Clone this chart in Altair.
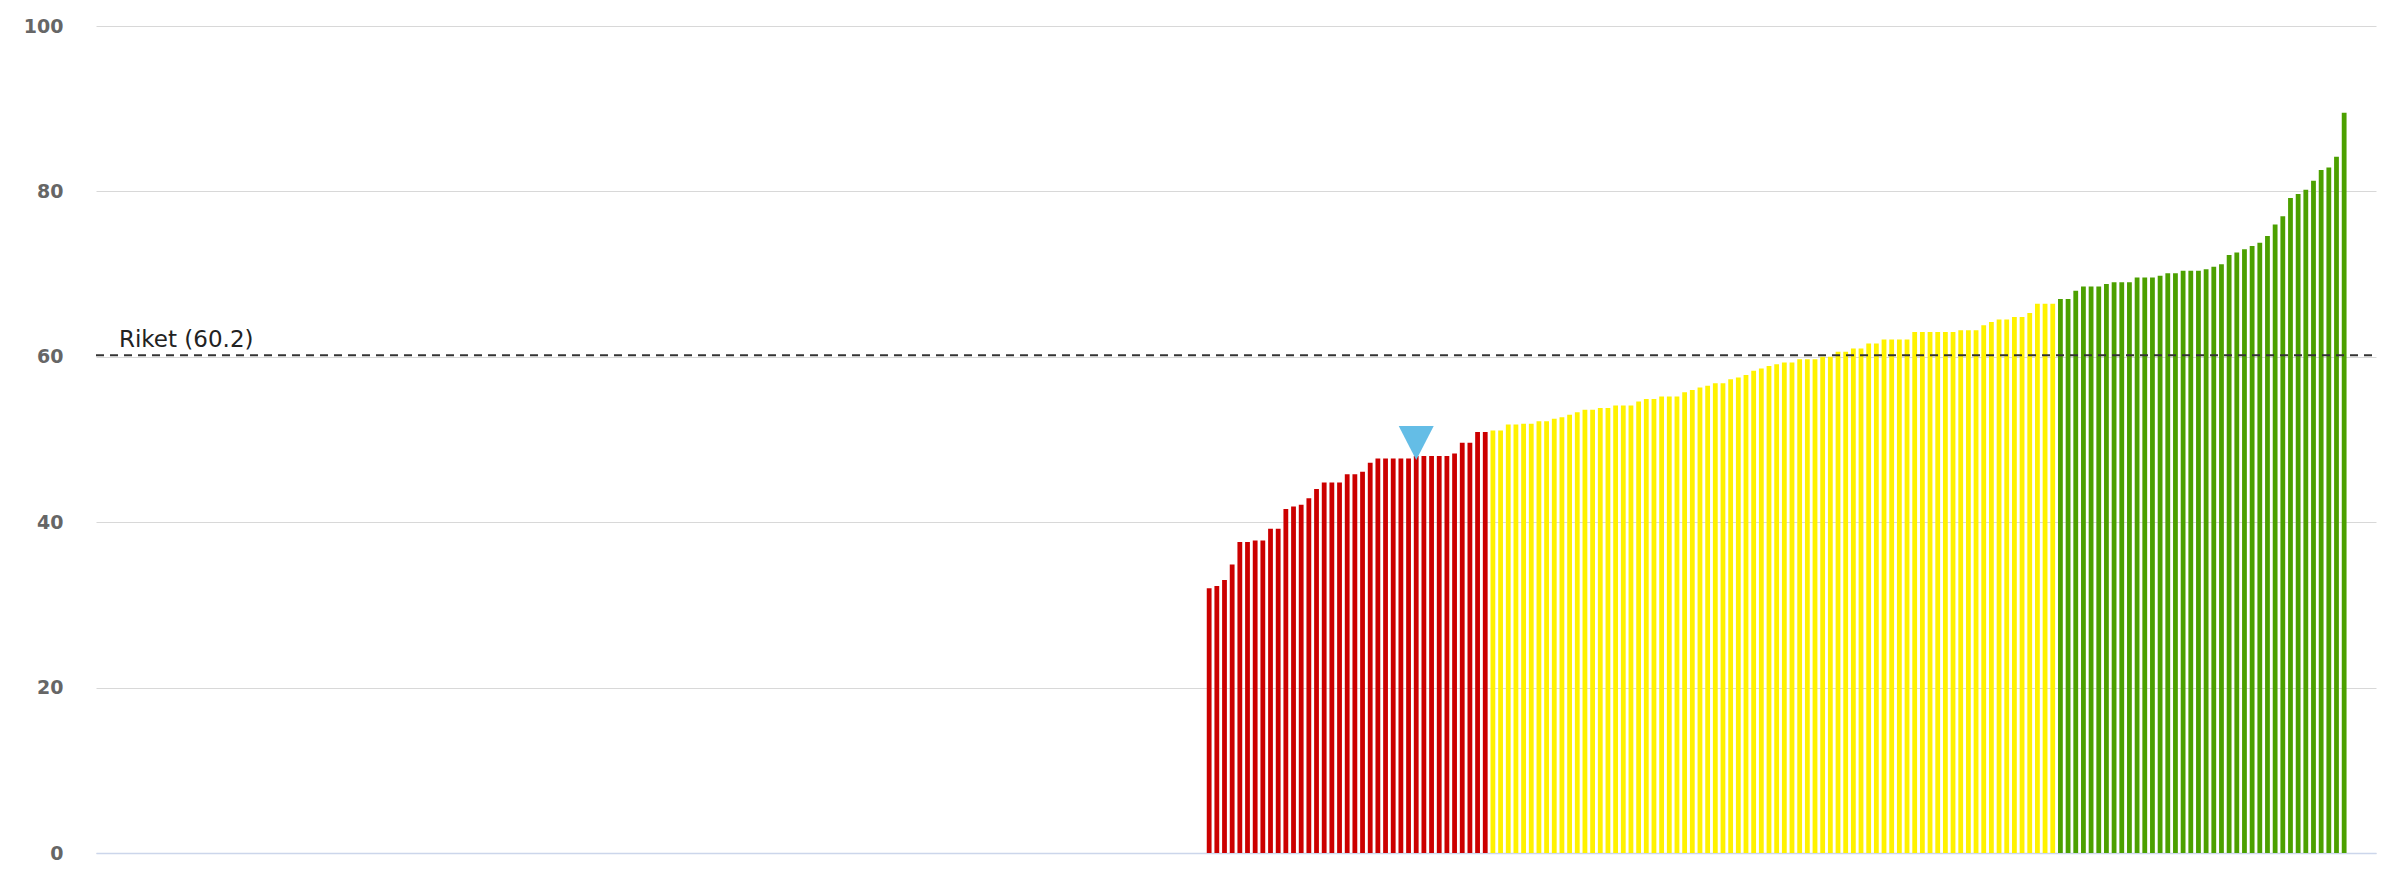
import altair as alt
import pandas as pd

# Sorted values (municipalities with data), split by colour class
red_values = [32.0, 32.3, 33.0, 34.9, 37.6, 37.6, 37.8, 37.8, 39.2, 39.2,
              41.6, 41.9, 42.1, 42.9, 44.0, 44.8, 44.8, 44.8, 45.8, 45.8,
              46.1, 47.2, 47.7, 47.7, 47.7, 47.7, 47.7, 48.0, 48.0, 48.0,
              48.0, 48.0, 48.3, 49.6, 49.6, 50.9, 50.9]
yellow_values = [51.1, 51.1, 51.8, 51.8, 51.9, 51.9, 52.2, 52.2, 52.5, 52.7,
                 53.0, 53.3, 53.6, 53.6, 53.8, 53.8, 54.1, 54.1, 54.1, 54.6,
                 54.9, 54.9, 55.2, 55.2, 55.2, 55.7, 56.0, 56.3, 56.5, 56.8,
                 56.8, 57.3, 57.5, 57.8, 58.3, 58.6, 58.9, 59.1, 59.3, 59.3,
                 59.7, 59.7, 59.7, 60.0, 60.0, 60.6, 60.6, 61.0, 61.0, 61.6,
                 61.6, 62.1, 62.1, 62.1, 62.1, 63.0, 63.0, 63.0, 63.0, 63.0,
                 63.0, 63.2, 63.2, 63.2, 63.8, 64.2, 64.5, 64.5, 64.8, 64.8,
                 65.3, 66.4, 66.4, 66.4]
green_values = [67.0, 67.0, 68.0, 68.5, 68.5, 68.5, 68.8, 69.0, 69.0, 69.0,
                69.6, 69.6, 69.6, 69.8, 70.1, 70.1, 70.4, 70.4, 70.4, 70.6,
                70.9, 71.2, 72.3, 72.6, 73.0, 73.4, 73.8, 74.6, 76.0, 77.0,
                79.2, 79.7, 80.2, 81.3, 82.6, 82.9, 84.2, 89.5]

group_names = ["low", "mid", "high"]
group_colors = ["#cc0000", "#fff200", "#4ca000"]

empty_slots_before = 144   # municipalities without a value (left side)
total_slots = 296
marked_index = 27          # highlighted municipality (position in the sorted bars)
riket_value = 60.2
riket_label = "Riket (60.2)"
y_ticks = [0, 20, 40, 60, 80, 100]

rows = []
i = 0
for name, vals in zip(group_names, [red_values, yellow_values, green_values]):
    for v in vals:
        rows.append({"pos": empty_slots_before + i + 0.5, "value": v, "group": name})
        i += 1
df = pd.DataFrame(rows)
marker_df = df.iloc[[marked_index]]
riket_df = pd.DataFrame({"value": [riket_value], "label": [riket_label]})

FONT = "DejaVu Sans"
PLOT_W, PLOT_H = 2280, 827

x_enc = alt.X("pos:Q",
              scale=alt.Scale(domain=[0, total_slots], nice=False, zero=False),
              axis=alt.Axis(labels=False, ticks=False, grid=False, title=None,
                            domain=True, domainColor="#ccd6eb", domainWidth=1.5))
y_enc = alt.Y("value:Q",
              scale=alt.Scale(domain=[0, 100], nice=False),
              axis=alt.Axis(values=y_ticks, grid=True, gridColor="#d8d8d8", gridWidth=1,
                            domain=False, ticks=False, labelFontSize=19,
                            labelFontWeight="bold",
                            labelColor="#666666", labelFont=FONT, labelPadding=33,
                            title=None))

bars = alt.Chart(df).mark_bar(width=4.8).encode(
    x=x_enc,
    y=y_enc,
    color=alt.Color("group:N",
                    scale=alt.Scale(domain=group_names, range=group_colors),
                    legend=None),
)

marker = alt.Chart(marker_df).mark_point(
    shape="M-1,-1.71L1,-1.71L0,0.23Z", size=1225, filled=True,
    color="#64bde6", opacity=1, strokeWidth=0
).encode(x="pos:Q", y="value:Q")

rule = alt.Chart(riket_df).mark_rule(
    color="#333333", strokeWidth=2, strokeDash=[8, 6]
).encode(y="value:Q", x=alt.value(0), x2=alt.value(PLOT_W))

text = alt.Chart(riket_df).mark_text(
    align="left", baseline="alphabetic", dy=-8, fontSize=23, font=FONT, color="#222222"
).encode(y="value:Q", x=alt.value(23), text="label:N")

chart = alt.layer(bars, rule, marker, text).properties(
    width=PLOT_W, height=PLOT_H,
    autosize=alt.AutoSizeParams(type="none"),
    padding={"left": 88, "top": 18, "right": 10, "bottom": 20},
    background="white",
).configure_view(stroke=None)

chart.save("out.html", embed_options={"renderer": "svg", "actions": False})
